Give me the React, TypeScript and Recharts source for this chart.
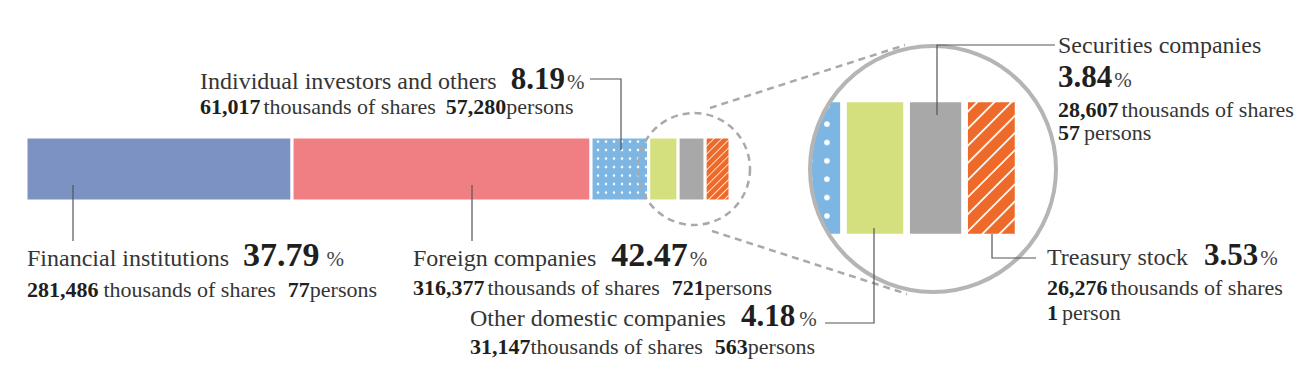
import { BarChart, Bar, XAxis, YAxis } from 'recharts';

// Shareholder composition — one stacked bar plus a magnified detail of the small holders.
const categories = [
  'Financial institutions',
  'Foreign companies',
  'Individual investors and others',
  'Other domestic companies',
  'Securities companies',
  'Treasury stock',
];
const keys = ['fin', 'foreign', 'indiv', 'other', 'sec', 'treas'];
const percents = [37.79, 42.47, 8.19, 4.18, 3.84, 3.53];
const shares = ['281,486', '316,377', '61,017', '31,147', '28,607', '26,276'];
const persons = ['77', '721', '57,280', '563', '57', '1'];

const row: Record<string, number | string> = { name: 'holders' };
keys.forEach((k, i) => {
  row[k] = percents[i];
});
const data = [row];

const TXT = '#353535';
const NUM = '#1f1f1f';
const LINE = '#555';
const DASH = '#a9a9a9';

function fills(p: string) {
  return {
    fin: '#7b92c2',
    foreign: '#ef7f83',
    indiv: `url(#${p}dots)`,
    other: '#d4e07e',
    sec: '#a8a8a8',
    treas: `url(#${p}hatch)`,
  } as Record<string, string>;
}

function Patterns({ p, s, ox, oy }: { p: string; s: number; ox: number; oy: number }) {
  return (
    <defs>
      <pattern id={`${p}dots`} patternUnits="userSpaceOnUse" x={ox} y={oy} width={8 * s} height={8.5 * s}>
        <rect width={8 * s} height={8.5 * s} fill="#7db6e2" />
        <circle cx={4 * s} cy={4.5 * s} r={1.3 * s} fill="#fff" />
      </pattern>
      <pattern
        id={`${p}hatch`}
        patternUnits="userSpaceOnUse"
        width={5.6 * s}
        height={5.6 * s}
        patternTransform="rotate(45)"
      >
        <rect width={5.6 * s} height={5.6 * s} fill="#ee6a2b" />
        <line x1={0} y1={0} x2={0} y2={5.6 * s} stroke="#fff" strokeWidth={1.6 * s} />
      </pattern>
    </defs>
  );
}

function StackBar({
  p,
  s,
  width,
  height,
  ox = 0,
  oy = 0,
}: {
  p: string;
  s: number;
  width: number;
  height: number;
  ox?: number;
  oy?: number;
}) {
  const f = fills(p);
  return (
    <BarChart
      layout="vertical"
      width={width}
      height={height}
      data={data}
      margin={{ top: 0, right: 0, bottom: 0, left: 0 }}
      barCategoryGap={0}
    >
      <Patterns p={p} s={s} ox={ox} oy={oy} />
      <XAxis type="number" domain={[0, 100]} hide />
      <YAxis type="category" dataKey="name" hide />
      {keys.map((k) => (
        <Bar
          key={k}
          dataKey={k}
          stackId="a"
          fill={f[k]}
          stroke="#fff"
          strokeWidth={3 * s}
          isAnimationActive={false}
        />
      ))}
    </BarChart>
  );
}

function Pct({ i, size, dx = 14, gap = 2 }: { i: number; size: number; dx?: number; gap?: number }) {
  return (
    <>
      <tspan dx={dx} fontSize={size} fontWeight="bold" fill={NUM}>
        {percents[i].toFixed(2)}
      </tspan>
      <tspan dx={gap} fontSize={21} fill="#444">
        %
      </tspan>
    </>
  );
}

export default function App() {
  return (
    <div style={{ position: 'absolute', left: 0, top: 0, width: 1316, height: 372, background: '#fff' }}>
      <div style={{ position: 'absolute', left: 26, top: 136.5 }}>
        <StackBar p="m" s={1} width={704} height={64} />
      </div>

      {/* magnified detail, clipped to the circle */}
      <div
        style={{
          position: 'absolute',
          left: 810,
          top: 46,
          width: 246,
          height: 246,
          borderRadius: '50%',
          overflow: 'hidden',
        }}
      >
        <div style={{ position: 'absolute', left: -1302.5, top: 53 }}>
          <StackBar p="z" s={2.16} width={1510} height={138} ox={-3} oy={-3} />
        </div>
      </div>

      <svg
        width={1316}
        height={372}
        style={{ position: 'absolute', left: 0, top: 0, pointerEvents: 'none' }}
        fontFamily="'Liberation Serif', 'Times New Roman', serif"
      >
        {/* loupe */}
        <circle cx={694} cy={169} r={56} fill="none" stroke={DASH} strokeWidth={2.5} strokeDasharray="7 5" />
        <line x1={710} y1={108} x2={905} y2={45} stroke={DASH} strokeWidth={2.5} strokeDasharray="7 5" />
        <line x1={712} y1={231} x2={907} y2={294} stroke={DASH} strokeWidth={2.5} strokeDasharray="7 5" />
        <circle cx={933} cy={169} r={123} fill="none" stroke="#b5b5b5" strokeWidth={4} />

        {/* leader lines */}
        <g stroke={LINE} strokeWidth={1.2} fill="none">
          <line x1={73} y1={185} x2={73} y2={241} />
          <line x1={472} y1={185} x2={472} y2={241} />
          <polyline points="590,79 621,79 621,150" />
          <polyline points="825,323 874,323 874,228" />
          <polyline points="937,115 937,45 1055,45" />
          <polyline points="992,234 992,258 1036,258" />
        </g>

        {/* Individual investors */}
        <text x={200} y={89} fontSize={24} fill={TXT}>
          {categories[2]}
          <Pct i={2} size={31} />
        </text>
        <text x={200} y={114} fontSize={22} fill={TXT}>
          <tspan fontWeight="bold" fill={NUM}>{shares[2]}</tspan>
          <tspan dx={3}>thousands of shares</tspan>
          <tspan dx={10} fontWeight="bold" fill={NUM}>{persons[2]}</tspan>
          <tspan>persons</tspan>
        </text>

        {/* Financial institutions */}
        <text x={27} y={266} fontSize={24} fill={TXT}>
          {categories[0]}
          <Pct i={0} size={34} gap={7} />
        </text>
        <text x={27} y={297} fontSize={22} fill={TXT}>
          <tspan fontWeight="bold" fill={NUM}>{shares[0]}</tspan>
          <tspan dx={5}>thousands of shares</tspan>
          <tspan dx={12} fontWeight="bold" fill={NUM}>{persons[0]}</tspan>
          <tspan>persons</tspan>
        </text>

        {/* Foreign companies */}
        <text x={413} y={266} fontSize={24} fill={TXT}>
          {categories[1]}
          <Pct i={1} size={34} dx={15} />
        </text>
        <text x={413} y={295} fontSize={22} fill={TXT}>
          <tspan fontWeight="bold" fill={NUM}>{shares[1]}</tspan>
          <tspan dx={3}>thousands of shares</tspan>
          <tspan dx={12} fontWeight="bold" fill={NUM}>{persons[1]}</tspan>
          <tspan>persons</tspan>
        </text>

        {/* Other domestic companies */}
        <text x={470} y={326} fontSize={24} fill={TXT}>
          {categories[3]}
          <Pct i={3} size={31} dx={15} gap={4} />
        </text>
        <text x={470} y={354} fontSize={22} fill={TXT}>
          <tspan fontWeight="bold" fill={NUM}>{shares[3]}</tspan>
          <tspan>thousands of shares</tspan>
          <tspan dx={12} fontWeight="bold" fill={NUM}>{persons[3]}</tspan>
          <tspan>persons</tspan>
        </text>

        {/* Securities companies */}
        <text x={1058} y={53} fontSize={24} fill={TXT}>
          {categories[4]}
        </text>
        <text x={1058} y={87} fill={TXT}>
          <Pct i={4} size={31} dx={0} />
        </text>
        <text x={1058} y={117} fontSize={22} fill={TXT}>
          <tspan fontWeight="bold" fill={NUM}>{shares[4]}</tspan>
          <tspan dx={3}>thousands of shares</tspan>
        </text>
        <text x={1058} y={140} fontSize={22} fill={TXT}>
          <tspan fontWeight="bold" fill={NUM}>{persons[4]}</tspan>
          <tspan dx={4}>persons</tspan>
        </text>

        {/* Treasury stock */}
        <text x={1047} y={265} fontSize={24} fill={TXT}>
          {categories[5]}
          <Pct i={5} size={31} dx={16} />
        </text>
        <text x={1047} y={295} fontSize={22} fill={TXT}>
          <tspan fontWeight="bold" fill={NUM}>{shares[5]}</tspan>
          <tspan dx={3}>thousands of shares</tspan>
        </text>
        <text x={1047} y={320} fontSize={22} fill={TXT}>
          <tspan fontWeight="bold" fill={NUM}>{persons[5]}</tspan>
          <tspan dx={4}>person</tspan>
        </text>
      </svg>
    </div>
  );
}
